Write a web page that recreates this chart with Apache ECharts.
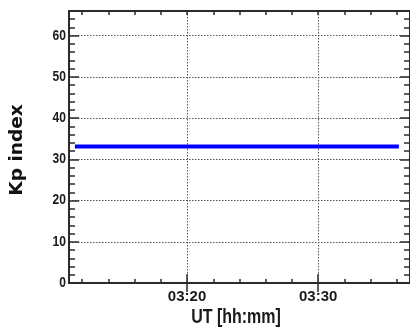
<!DOCTYPE html>
<html><head><meta charset="utf-8">
<script src="https://cdn.jsdelivr.net/npm/echarts@6/dist/echarts.min.js"></script>
<style>html,body{margin:0;padding:0;background:#fff}#c{width:410px;height:331px}</style>
</head><body><div id="c"></div>
<script>
// Data: minutes after 03:00 UT, Kp index
const times = [11.45, 36.15];
const kp = [33.1, 33.1];
const xMajorTicks = [20, 30];
const xMinorTicks = [12,14,16,18,20,22,24,26,28,30,32,34,36];
const xLabels = ['03:20', '03:30'];
const yMajorTicks = [0,10,20,30,40,50,60];
const yMinorTicks = [2,4,6,8,12,14,16,18,22,24,26,28,32,34,36,38,42,44,46,48,52,54,56,58,62,64];

const FONT = '"Liberation Sans", Arial, sans-serif';
const AX = '#2b2b2b';
const X_MIN = 11, X_MAX = 37, Y_MIN = 0, Y_MAX = 66;

function xAx(pos, opt) {
  return Object.assign({
    type: 'value', position: pos, min: X_MIN, max: X_MAX, gridIndex: 0,
    axisLine: {show: false}, axisLabel: {show: false}, splitLine: {show: false},
    axisTick: {show: false}
  }, opt);
}
function yAx(pos, opt) {
  return Object.assign({
    type: 'value', position: pos, min: Y_MIN, max: Y_MAX, gridIndex: 0,
    axisLine: {show: false}, axisLabel: {show: false}, splitLine: {show: false},
    axisTick: {show: false}
  }, opt);
}
const tickStyle = {color: AX, width: 1.5};
const gridStyle = {type: [1.5, 1.5], color: '#555', width: 1};
const chart = echarts.init(document.getElementById('c'), null, {renderer: 'canvas'});
chart.setOption({
  animation: false,
  grid: {left: 69, right: -2, top: 11, bottom: 48, show: false},
  xAxis: [
    xAx('bottom', {
      axisLine: {show: true, onZero: false, lineStyle: {color: AX, width: 2}},
      axisTick: {show: true, inside: true, length: 4, customValues: xMinorTicks, lineStyle: tickStyle},
      axisLabel: {show: true, customValues: xMajorTicks, margin: 6,
        formatter: v => xLabels[xMajorTicks.indexOf(v)] || '',
        fontFamily: FONT, fontWeight: 'bold', fontSize: 15, color: '#1a1a1a'}
    }),
    xAx('bottom', {
      axisTick: {show: true, inside: true, length: 9, customValues: xMajorTicks, lineStyle: tickStyle},
      splitLine: {show: true, lineStyle: gridStyle}
    }),
    xAx('top', {
      axisLine: {show: true, onZero: false, lineStyle: {color: AX, width: 2}},
      axisTick: {show: true, inside: true, length: 4, customValues: xMinorTicks, lineStyle: tickStyle}
    }),
    xAx('top', {
      axisTick: {show: true, inside: true, length: 9, customValues: xMajorTicks, lineStyle: tickStyle}
    })
  ],
  yAxis: [
    yAx('left', {
      axisLine: {show: true, onZero: false, lineStyle: {color: AX, width: 2}},
      axisTick: {show: true, inside: true, length: 10, customValues: yMajorTicks, lineStyle: tickStyle},
      splitLine: {show: true, lineStyle: gridStyle}
    }),
    yAx('left', {
      axisTick: {show: true, inside: true, length: 6, customValues: yMinorTicks, lineStyle: tickStyle}
    }),
    yAx('right', {
      axisLine: {show: true, onZero: false, lineStyle: {color: AX, width: 2}},
      axisTick: {show: true, inside: true, length: 10, customValues: yMajorTicks, lineStyle: tickStyle}
    }),
    yAx('right', {
      axisTick: {show: true, inside: true, length: 6, customValues: yMinorTicks, lineStyle: tickStyle}
    })
  ],
  series: [{
    type: 'line', xAxisIndex: 0, yAxisIndex: 0,
    data: times.map((t, i) => [t, kp[i]]),
    showSymbol: false, symbol: 'none',
    lineStyle: {color: '#0000ff', width: 4, cap: 'butt'},
    z: 5
  }]
});

// Condensed bold y tick labels and axis titles, placed through the axis scale
const yAxisPx = chart.convertToPixel({xAxisIndex: 0}, X_MIN);
const graphics = yMajorTicks.map(v => ({
  type: 'text', x: yAxisPx - 3, y: chart.convertToPixel({yAxisIndex: 0}, v), scaleX: 0.86, z: 10,
  style: {text: String(v), font: 'bold 14px "Liberation Sans", Arial, sans-serif',
    fill: '#1a1a1a', textAlign: 'right', textVerticalAlign: 'middle'}
}));
graphics.push({
  type: 'text', x: 236, y: 318, scaleX: 0.82, z: 10,
  style: {text: 'UT [hh:mm]', font: 'bold 19.5px "Liberation Sans", Arial, sans-serif',
    fill: '#1a1a1a', textAlign: 'center', textVerticalAlign: 'middle'}
});
graphics.push({
  type: 'text', x: 17, y: 150, rotation: Math.PI / 2, z: 10,
  style: {text: 'Kp index', font: 'bold 18.5px "DejaVu Sans", sans-serif',
    fill: '#111', textAlign: 'center', textVerticalAlign: 'middle'}
});
chart.setOption({graphic: graphics});
</script></body></html>
